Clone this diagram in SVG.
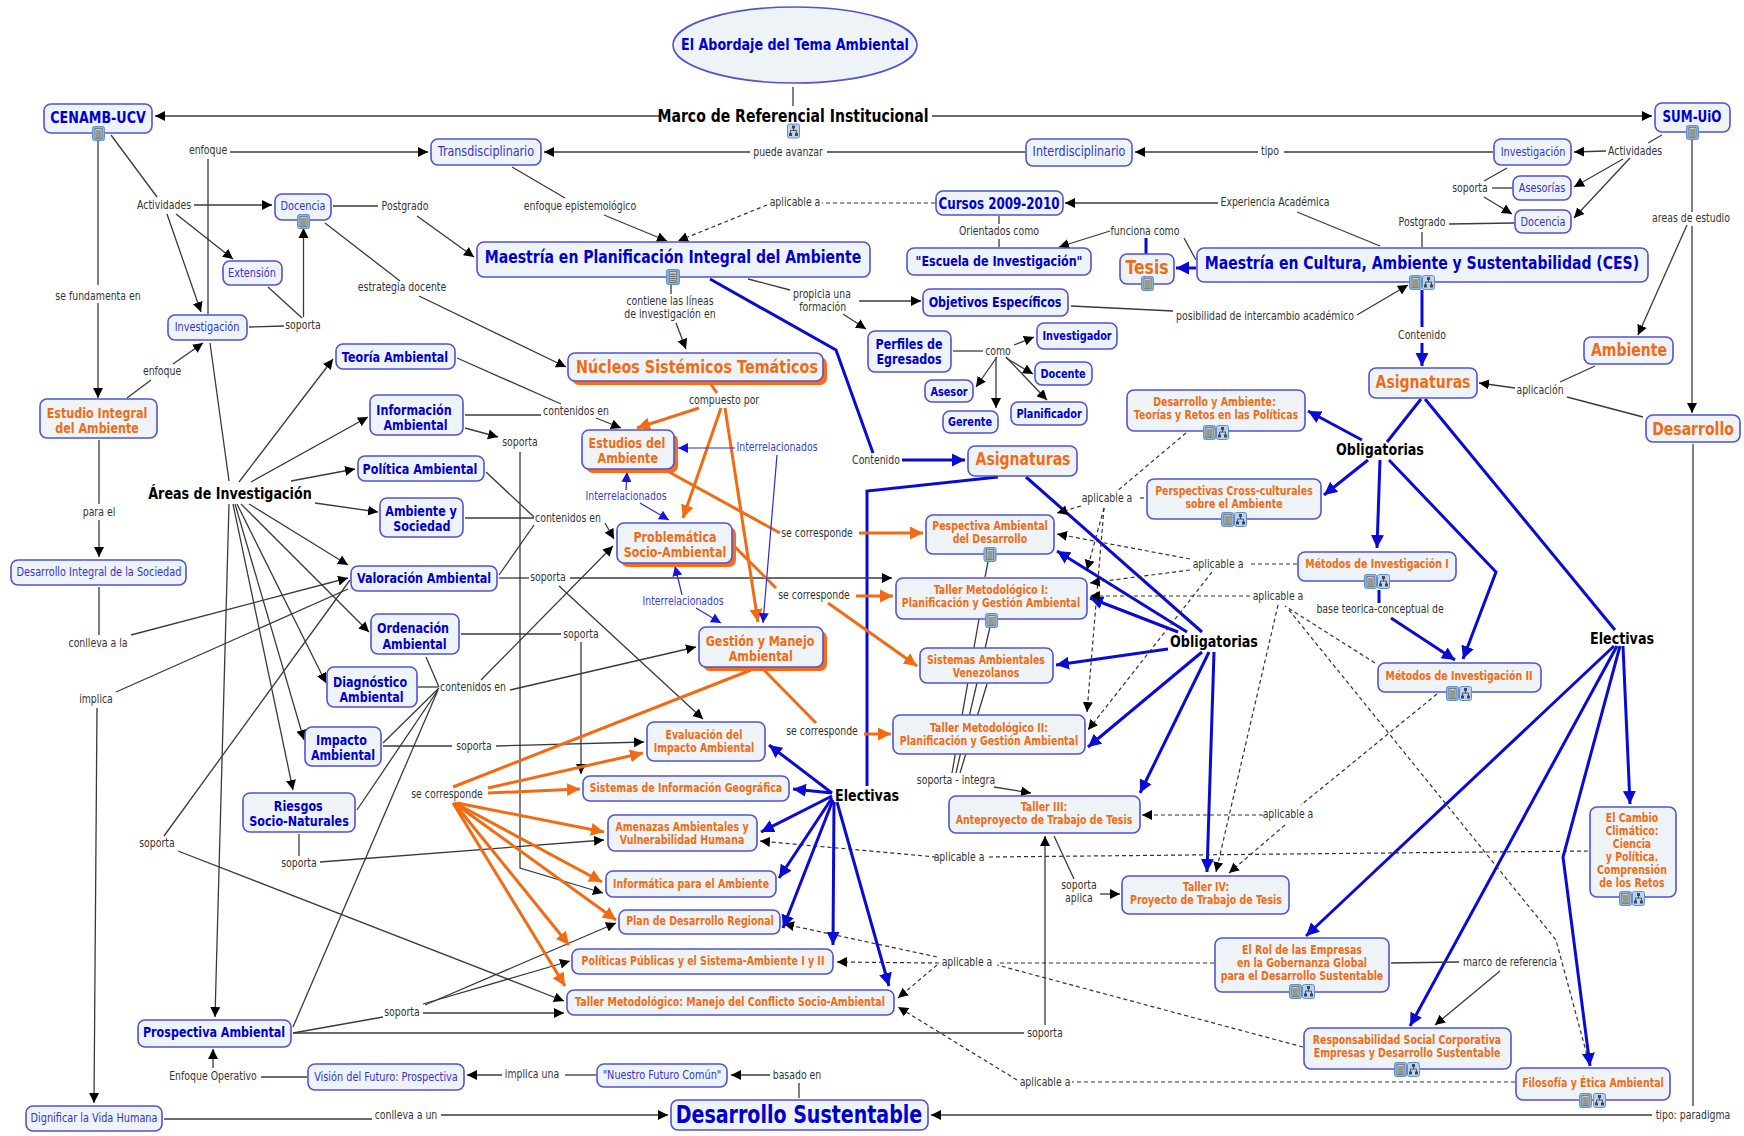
<svg xmlns="http://www.w3.org/2000/svg" xmlns:xlink="http://www.w3.org/1999/xlink" width="1744" height="1136" viewBox="0 0 1744 1136">
<style>
text{font-family:"DejaVu Sans","Verdana",sans-serif;text-anchor:middle;dominant-baseline:central;transform-box:fill-box;transform-origin:center;transform:scaleX(.78)}
.n{fill:#eef3f8;stroke:#5252d2;stroke-width:1.6}
.s{fill:#ff6a13;stroke:none}
.bl{fill:#0000cc;font-weight:bold}
.rg{fill:#3535cc}
.or{fill:#f06c14;font-weight:bold}
.bk{fill:#000;font-weight:bold}
.lb{fill:#333;font-size:12px}
.ib{fill:#3c3cd0;font-size:12px}
.f11{font-size:12.1px}.f12{font-size:12.5px}.f13{font-size:14.3px}.f16{font-size:16.3px}.f15{font-size:15.3px}.f17{font-size:18px}.f14{font-size:14.3px}.f18{font-size:18.4px}.f20{font-size:20px}.f22{font-size:24.4px}
#connectors path{fill:none}
.k{stroke:#3a3a3a;stroke-width:1.3}
.ka{stroke:#3a3a3a;stroke-width:1.3;marker-end:url(#mk)}
.d{stroke:#333;stroke-width:1.2;stroke-dasharray:4 3}
.da{stroke:#333;stroke-width:1.2;stroke-dasharray:4 3;marker-end:url(#mk)}
.b{stroke:#0a0ad6;stroke-width:3}
.ba{stroke:#0a0ad6;stroke-width:3;marker-end:url(#mb)}
.bt{stroke:#2a2ad6;stroke-width:1.2;marker-end:url(#mt)}
.o{stroke:#f26a12;stroke-width:3}
.oa{stroke:#f26a12;stroke-width:3;marker-end:url(#mo)}
</style>
<defs>
<marker id="mk" markerUnits="userSpaceOnUse" markerWidth="11" markerHeight="11" refX="10" refY="5.500" orient="auto"><path d="M0 .5L10 5.500L0 10.500z" fill="#000"/></marker>
<marker id="mt" markerUnits="userSpaceOnUse" markerWidth="11" markerHeight="11" refX="10" refY="5.500" orient="auto"><path d="M0 .5L10 5.500L0 10.500z" fill="#1414dc"/></marker>
<marker id="mb" markerUnits="userSpaceOnUse" markerWidth="14" markerHeight="14" refX="13" refY="7" orient="auto"><path d="M0 .5L13 7L0 13.500z" fill="#0a0ad6"/></marker>
<marker id="mo" markerUnits="userSpaceOnUse" markerWidth="14" markerHeight="14" refX="13" refY="7" orient="auto"><path d="M0 .5L13 7L0 13.500z" fill="#f26a12"/></marker>
<symbol id="doc" viewBox="0 0 13 15"><rect x=".5" y=".5" width="12" height="14" rx="2" fill="#8fb4de" stroke="#5f8fcc"/><rect x="3" y="2.500" width="7" height="10" fill="#c9d0bb" stroke="#555" stroke-width=".6"/><path d="M4 5h5M4 7h5M4 9h5M4 11h5" stroke="#445" stroke-width=".8"/></symbol>
<symbol id="net" viewBox="0 0 13 15"><rect x=".5" y=".5" width="12" height="14" rx="2" fill="#b9d2ee" stroke="#5f8fcc"/><path d="M6.500 3V7M3.500 11V7H9.500V11" stroke="#333" fill="none" stroke-width=".8"/><rect x="5" y="2" width="3" height="3" fill="#445"/><rect x="2" y="9.500" width="3" height="3" fill="#445"/><rect x="8" y="9.500" width="3" height="3" fill="#445"/></symbol>
</defs>
<rect width="1744" height="1136" fill="#fff"/>
<g id="connectors">
<path class="k" d="M793 87V106"/>
<path class="ka" d="M660 116H155"/>
<path class="ka" d="M932 116H1652"/>
<path class="k" d="M98 141V285"/>
<path class="ka" d="M98 303V398"/>
<path class="k" d="M111 135L157 197"/>
<path class="ka" d="M194 205H272"/>
<path class="ka" d="M176 214L233 259"/>
<path class="ka" d="M167 214L201 312"/>
<path class="k" d="M229 481L210 343"/>
<path class="k" d="M208 314V159"/>
<path class="ka" d="M230 152H428"/>
<path class="k" d="M127 398L151 380"/>
<path class="ka" d="M173 364L203 343"/>
<path class="k" d="M268 287L302 318"/>
<path class="k" d="M249 327L284 326"/>
<path class="ka" d="M303.500 317V228"/>
<path class="k" d="M333 206H378"/>
<path class="ka" d="M417 216L474 257"/>
<path class="k" d="M325 223L400 281"/>
<path class="ka" d="M419 296L566 367"/>
<path class="k" d="M512 167L565 198"/>
<path class="ka" d="M604 215L667 241"/>
<path class="k" d="M1025 152H827"/>
<path class="ka" d="M750 152H544"/>
<path class="k" d="M1493 152H1284"/>
<path class="ka" d="M1258 152H1135"/>
<path class="k" d="M1662 135L1648 143"/>
<path class="ka" d="M1606 151L1574 152"/>
<path class="ka" d="M1623 159L1574 187"/>
<path class="ka" d="M1630 158L1574 218"/>
<path class="k" d="M1507 168L1484 181"/>
<path class="k" d="M1512 188H1492"/>
<path class="ka" d="M1484 197L1512 214"/>
<path class="k" d="M1514 223L1449 224"/>
<path class="k" d="M1422 232V247"/>
<path class="k" d="M1380 246L1297 212"/>
<path class="ka" d="M1218 203H1065"/>
<path class="k" d="M1196 260L1184 238"/>
<path class="ka" d="M1110 231L1059 247"/>
<path class="b" d="M1146 238V254"/>
<path class="ba" d="M1196 268H1176"/>
<path class="d" d="M935 203H822"/>
<path class="da" d="M767 205L678 241"/>
<path class="k" d="M999 216V224M999 239V247"/>
<path class="k" d="M671 285V294"/>
<path class="ka" d="M676 323L686 349"/>
<path class="k" d="M748 279L790 290"/>
<path class="ka" d="M859 301H921"/>
<path class="ka" d="M843 314L866 329"/>
<path class="k" d="M953 351H983"/>
<path class="ka" d="M1014 345L1034 337"/>
<path class="ka" d="M1006 358L1033 374"/>
<path class="ka" d="M1006 357L1047 400"/>
<path class="ka" d="M997 357L976 387"/>
<path class="ka" d="M996 357V408"/>
<path class="k" d="M1071 306L1173 311"/>
<path class="ka" d="M1357 315L1408 285"/>
<path class="b" d="M1422 290V327"/>
<path class="ba" d="M1422 343V366"/>
<path class="k" d="M1692 140V212"/>
<path class="ka" d="M1692 226V413"/>
<path class="ka" d="M1687 225L1638 335"/>
<path class="k" d="M1595 366L1560 382"/>
<path class="k" d="M1643 417L1567 397"/>
<path class="ka" d="M1515 388L1479 383"/>
<path class="k" d="M1693 444V1106"/>
<path class="ka" d="M1652 1115H931"/>
<path class="b" d="M1421 399L1387 442"/>
<path class="b" d="M1425 399L1615 630"/>
<path class="ba" d="M1362 440L1308 411"/>
<path class="ba" d="M1368 460L1324 495"/>
<path class="ba" d="M1380 460L1377 548"/>
<path class="ba" d="M1389 460L1496 572L1463 659"/>
<path class="b" d="M1379 590V603"/>
<path class="ba" d="M1391 618L1455 660"/>
<path class="ba" d="M1614 646L1306 936"/>
<path class="ba" d="M1617 646L1410 1026"/>
<path class="ba" d="M1620 646L1563 857L1590 1066"/>
<path class="ba" d="M1623 646L1630 804"/>
<path class="b" d="M710 279L836 350L873 453"/>
<path class="ba" d="M902 460H965"/>
<path class="b" d="M998 477L867 491V786"/>
<path class="b" d="M1026 477L1202 632"/>
<path class="ba" d="M1187 632L1057 551"/>
<path class="ba" d="M1178 632L1090 598"/>
<path class="ba" d="M1168 649L1056 665"/>
<path class="ba" d="M1202 652L1088 747"/>
<path class="ba" d="M1209 652L1140 793"/>
<path class="ba" d="M1214 652L1207 872"/>
<path class="d" d="M1186 433L1116 492"/>
<path class="d" d="M1140 498H1146"/>
<path class="da" d="M1081 506L1057 513"/>
<path class="da" d="M1104 508L1087 570"/>
<path class="da" d="M1104 508L1087 712"/>
<path class="d" d="M1297 564H1248"/>
<path class="da" d="M1190 559L1057 534"/>
<path class="da" d="M1190 570L1090 583"/>
<path class="da" d="M1212 572L1088 730"/>
<path class="da" d="M1250 596H1090"/>
<path class="d" d="M1375 663L1285 606"/>
<path class="d" d="M1289 610L1556 940L1587 1055"/>
<path class="da" d="M1278 605L1216 872"/>
<path class="d" d="M1437 694L1301 805"/>
<path class="da" d="M1263 815H1142"/>
<path class="da" d="M1285 825L1229 873"/>
<path class="d" d="M1588 851L989 857"/>
<path class="da" d="M936 857L760 841"/>
<path class="d" d="M1214 963H997"/>
<path class="da" d="M939 963L837 962"/>
<path class="da" d="M937 957L784 924"/>
<path class="da" d="M937 965L898 998"/>
<path class="d" d="M1303 1047L997 965"/>
<path class="d" d="M1515 1082H1072"/>
<path class="da" d="M1017 1080L898 1007"/>
<path class="k" d="M596 1075H565"/>
<path class="ka" d="M502 1075H467"/>
<path class="k" d="M307 1077H261"/>
<path class="ka" d="M213 1068V1049"/>
<path class="k" d="M799 1098V1083"/>
<path class="ka" d="M770 1075H731"/>
<path class="k" d="M164 1119H372"/>
<path class="ka" d="M441 1115H668"/>
<path class="k" d="M1391 963L1459 962"/>
<path class="ka" d="M1500 971L1435 1025"/>
<path class="k" d="M1054 836L1074 879"/>
<path class="ka" d="M1100 894H1120"/>
<path class="ka" d="M1045 1025V836"/>
<path class="k" d="M293 1033H1024"/>
<path class="k" d="M293 1033L383 1017"/>
<path class="ka" d="M423 1013H564"/>
<path class="ka" d="M423 1004L570 961"/>
<path class="ka" d="M425 1005L616 923"/>
<path class="k" d="M293 1027L438 690"/>
<path class="k" d="M357 810L438 690"/>
<path class="k" d="M383 743L439 688"/>
<path class="k" d="M418 687H438"/>
<path class="k" d="M426 657L439 687"/>
<path class="ka" d="M510 690L696 647"/>
<path class="ka" d="M481 680L613 546"/>
<path class="k" d="M350 580L164 836"/>
<path class="ka" d="M178 851L564 1001"/>
<path class="ka" d="M239 482L333 359"/>
<path class="ka" d="M251 482L368 417"/>
<path class="ka" d="M291 481L355 469"/>
<path class="ka" d="M315 503L378 512"/>
<path class="ka" d="M249 504L348 565"/>
<path class="ka" d="M241 504L369 632"/>
<path class="ka" d="M237 504L326 683"/>
<path class="ka" d="M235 504L304 740"/>
<path class="ka" d="M233 504L293 790"/>
<path class="ka" d="M229 504L215 1017"/>
<path class="k" d="M499 575L534 525"/>
<path class="k" d="M486 472L534 517"/>
<path class="k" d="M465 518H534"/>
<path class="ka" d="M605 523L614 539"/>
<path class="k" d="M457 358L561 404"/>
<path class="k" d="M465 415H541"/>
<path class="ka" d="M596 418L621 428"/>
<path class="ka" d="M465 428L498 437"/>
<path class="ka" d="M520 452V868L603 893"/>
<path class="k" d="M499 578H529"/>
<path class="ka" d="M570 578H892"/>
<path class="ka" d="M559 586L703 719"/>
<path class="k" d="M461 634H561"/>
<path class="ka" d="M581 642V774"/>
<path class="k" d="M383 746H452"/>
<path class="ka" d="M496 746L644 742"/>
<path class="k" d="M299 834V856"/>
<path class="ka" d="M320 862L604 840"/>
<path class="k" d="M99 587V635"/>
<path class="ka" d="M131 635L348 578"/>
<path class="k" d="M348 589L116 692"/>
<path class="ka" d="M97 708L94 1103"/>
<path class="k" d="M99 440V504"/>
<path class="ka" d="M99 520V557"/>
<path class="k" d="M988 562L985 577"/>
<path class="k" d="M979 619L952 773M990 627L956 773M987 684L960 773"/>
<path class="ka" d="M994 787L1031 793"/>
<path class="o" d="M710 383L717 393"/>
<path class="oa" d="M699 408L637 428"/>
<path class="oa" d="M721 408L683 518"/>
<path class="oa" d="M725 408L758 622"/>
<path class="o" d="M669 472L780 533"/>
<path class="oa" d="M859 533H923"/>
<path class="o" d="M735 547L776 588"/>
<path class="oa" d="M856 596H893"/>
<path class="oa" d="M828 603L917 666"/>
<path class="o" d="M764 670L816 723"/>
<path class="oa" d="M864 734H891"/>
<path class="o" d="M751 670L453 787"/>
<path class="oa" d="M488 788L643 753"/>
<path class="oa" d="M488 793L580 789"/>
<path class="oa" d="M457 803L604 832"/>
<path class="oa" d="M455 803L602 882"/>
<path class="oa" d="M454 803L616 920"/>
<path class="oa" d="M454 803L569 945"/>
<path class="oa" d="M453 803L565 986"/>
<path class="ba" d="M832 793L769 745"/>
<path class="ba" d="M832 793L793 789"/>
<path class="ba" d="M832 796L761 832"/>
<path class="ba" d="M832 798L779 878"/>
<path class="ba" d="M833 800L783 928"/>
<path class="ba" d="M834 802L833 945"/>
<path class="ba" d="M837 802L889 986"/>
<path class="bt" d="M735 448H678"/>
<path class="bt" d="M777 455L763 623"/>
<path class="bt" d="M626 490L627 472"/>
<path class="bt" d="M640 503L669 520"/>
<path class="bt" d="M682 595L675 566"/>
<path class="bt" d="M696 608L721 623"/>
</g>
<g id="n-abordaje"><ellipse class="n" cx="795" cy="45" rx="122" ry="38"/><text class="bl f16" x="795" y="44">El Abordaje del Tema Ambiental</text></g>
<g id="n-cenamb"><rect class="n" x="44" y="104" width="108" height="29" rx="7"/><text class="bl f16" x="98" y="117">CENAMB-UCV</text><use href="#doc" x="92" y="126" width="13" height="15"/></g>
<g id="n-sum"><rect class="n" x="1655" y="103" width="75" height="29" rx="7"/><text class="bl f15" x="1692" y="116">SUM-UiO</text><use href="#doc" x="1686" y="125" width="13" height="15"/></g>
<g id="n-trans"><rect class="n" x="431" y="139" width="110" height="26" rx="7"/><text class="rg f14" x="486" y="151">Transdisciplinario</text></g>
<g id="n-inter"><rect class="n" x="1026" y="139" width="106" height="27" rx="7"/><text class="rg f14" x="1079" y="151">Interdisciplinario</text></g>
<g id="n-inv-r"><rect class="n" x="1494" y="139" width="77" height="26" rx="7"/><text class="rg f12" x="1533" y="152">Investigación</text></g>
<g id="n-ases"><rect class="n" x="1513" y="176" width="58" height="24" rx="7"/><text class="rg f12" x="1542" y="188">Asesorías</text></g>
<g id="n-doc-r"><rect class="n" x="1515" y="210" width="56" height="23" rx="7"/><text class="rg f12" x="1543" y="222">Docencia</text></g>
<g id="n-docencia"><rect class="n" x="275" y="194" width="56" height="26" rx="7"/><text class="rg f12" x="303" y="206">Docencia</text><use href="#doc" x="297" y="214" width="13" height="15"/></g>
<g id="n-ext"><rect class="n" x="223" y="261" width="59" height="24" rx="7"/><text class="rg f12" x="252" y="273">Extensión</text></g>
<g id="n-inv"><rect class="n" x="168" y="315" width="79" height="25" rx="7"/><text class="rg f12" x="207" y="327">Investigación</text></g>
<g id="n-pia"><rect class="n" x="477" y="242" width="393" height="35" rx="7"/><text class="bl f17" x="673" y="257">Maestría en Planificación Integral del Ambiente</text><use href="#doc" x="666" y="269" width="14" height="16"/></g>
<g id="n-ces"><rect class="n" x="1197" y="248" width="451" height="34" rx="7"/><text class="bl f17" x="1422" y="263">Maestría en Cultura, Ambiente y Sustentabilidad (CES)</text><use href="#doc" x="1409" y="275" width="13" height="15"/><use href="#net" x="1422" y="275" width="13" height="15"/></g>
<g id="n-tesis"><rect class="n" x="1120" y="254" width="54" height="30" rx="7"/><text class="or f20" x="1147" y="267">Tesis</text><use href="#doc" x="1141" y="276" width="13" height="15"/></g>
<g id="n-cursos"><rect class="n" x="936" y="191" width="127" height="24" rx="7"/><text class="bl f15" x="999" y="203">Cursos 2009-2010</text></g>
<g id="n-escuela"><rect class="n" x="907" y="248" width="184" height="27" rx="7"/><text class="bl f14" x="999" y="261">"Escuela de Investigación"</text></g>
<g id="n-objetivos"><rect class="n" x="923" y="289" width="145" height="27" rx="7"/><text class="bl f14" x="995" y="302">Objetivos Específicos</text></g>
<g id="n-perfiles"><rect class="n" x="868" y="331" width="83" height="41" rx="7"/><text class="bl f14" x="909"><tspan x="909" y="343">Perfiles de</tspan><tspan x="909" y="358">Egresados</tspan></text></g>
<g id="n-investigador"><rect class="n" x="1037" y="323" width="80" height="26" rx="7"/><text class="bl f12" x="1077" y="336">Investigador</text></g>
<g id="n-docente"><rect class="n" x="1035" y="362" width="57" height="23" rx="7"/><text class="bl f12" x="1063" y="374">Docente</text></g>
<g id="n-planificador"><rect class="n" x="1011" y="402" width="76" height="23" rx="7"/><text class="bl f12" x="1049" y="414">Planificador</text></g>
<g id="n-asesor"><rect class="n" x="925" y="380" width="48" height="22" rx="7"/><text class="bl f12" x="949" y="392">Asesor</text></g>
<g id="n-gerente"><rect class="n" x="943" y="411" width="55" height="22" rx="7"/><text class="bl f12" x="970" y="422">Gerente</text></g>
<g id="n-ambiente"><rect class="n" x="1584" y="337" width="89" height="27" rx="7"/><text class="or f17" x="1629" y="350">Ambiente</text></g>
<g id="n-asig-r"><rect class="n" x="1369" y="368" width="108" height="30" rx="7"/><text class="or f17" x="1423" y="382">Asignaturas</text></g>
<g id="n-desarrollo"><rect class="n" x="1646" y="415" width="94" height="27" rx="7"/><text class="or f17" x="1693" y="429">Desarrollo</text></g>
<g id="n-dya"><rect class="n" x="1127" y="390" width="178" height="41" rx="7"/><text class="or f11"><tspan x="1214" y="402">Desarrollo y Ambiente:</tspan><tspan x="1216" y="415">Teorías y Retos en las Políticas</tspan></text><use href="#doc" x="1203" y="425" width="13" height="15"/><use href="#net" x="1216" y="425" width="13" height="15"/></g>
<g id="n-cross"><rect class="n" x="1147" y="479" width="174" height="40" rx="7"/><text class="or f11"><tspan x="1234" y="491">Perspectivas Cross-culturales</tspan><tspan x="1234" y="504">sobre el Ambiente</tspan></text><use href="#doc" x="1221" y="512" width="13" height="15"/><use href="#net" x="1234" y="512" width="13" height="15"/></g>
<g id="n-met1"><rect class="n" x="1298" y="552" width="158" height="29" rx="7"/><text class="or f11" x="1377" y="564">Métodos de Investigación I</text><use href="#doc" x="1364" y="574" width="13" height="15"/><use href="#net" x="1377" y="574" width="13" height="15"/></g>
<g id="n-met2"><rect class="n" x="1378" y="663" width="163" height="29" rx="7"/><text class="or f11" x="1459" y="676">Métodos de Investigación II</text><use href="#doc" x="1446" y="686" width="13" height="15"/><use href="#net" x="1459" y="686" width="13" height="15"/></g>
<g id="n-cambio"><rect class="n" x="1590" y="807" width="86" height="90" rx="7"/><text class="or f11"><tspan x="1632" y="818">El Cambio</tspan><tspan x="1632" y="831">Climático:</tspan><tspan x="1632" y="844">Ciencia</tspan><tspan x="1632" y="857">y Política.</tspan><tspan x="1632" y="870">Comprensión</tspan><tspan x="1632" y="883">de los Retos</tspan></text><use href="#doc" x="1619" y="891" width="13" height="15"/><use href="#net" x="1632" y="891" width="13" height="15"/></g>
<g id="n-asig-c"><rect class="n" x="968" y="446" width="109" height="30" rx="7"/><text class="or f17" x="1023" y="459">Asignaturas</text></g>
<g id="n-persp"><rect class="n" x="926" y="515" width="128" height="39" rx="7"/><text class="or f11"><tspan x="990" y="526">Pespectiva Ambiental</tspan><tspan x="990" y="539">del Desarrollo</tspan></text><use href="#doc" x="983" y="547" width="14" height="15"/></g>
<g id="n-t1"><rect class="n" x="896" y="578" width="191" height="41" rx="7"/><text class="or f11"><tspan x="991" y="590">Taller Metodológico I:</tspan><tspan x="991" y="603">Planificación y Gestión Ambiental</tspan></text><use href="#doc" x="985" y="613" width="13" height="15"/></g>
<g id="n-sav"><rect class="n" x="920" y="648" width="133" height="35" rx="7"/><text class="or f11"><tspan x="986" y="660">Sistemas Ambientales</tspan><tspan x="986" y="673">Venezolanos</tspan></text></g>
<g id="n-t2"><rect class="n" x="893" y="715" width="192" height="39" rx="7"/><text class="or f11"><tspan x="989" y="728">Taller Metodológico II:</tspan><tspan x="989" y="741">Planificación y Gestión Ambiental</tspan></text></g>
<g id="n-t3"><rect class="n" x="949" y="796" width="191" height="37" rx="7"/><text class="or f11"><tspan x="1044" y="807">Taller III:</tspan><tspan x="1044" y="820">Anteproyecto de Trabajo de Tesis</tspan></text></g>
<g id="n-t4"><rect class="n" x="1122" y="876" width="167" height="38" rx="7"/><text class="or f11"><tspan x="1206" y="887">Taller IV:</tspan><tspan x="1206" y="900">Proyecto de Trabajo de Tesis</tspan></text></g>
<g id="n-rol"><rect class="n" x="1215" y="938" width="174" height="54" rx="7"/><text class="or f11"><tspan x="1302" y="950">El Rol de las Empresas</tspan><tspan x="1302" y="963">en la Gobernanza Global</tspan><tspan x="1302" y="976">para el Desarrollo Sustentable</tspan></text><use href="#doc" x="1289" y="984" width="13" height="15"/><use href="#net" x="1302" y="984" width="13" height="15"/></g>
<g id="n-rsc"><rect class="n" x="1304" y="1028" width="207" height="41" rx="7"/><text class="or f11"><tspan x="1407" y="1040">Responsabilidad Social Corporativa</tspan><tspan x="1407" y="1053">Empresas y Desarrollo Sustentable</tspan></text><use href="#doc" x="1394" y="1062" width="13" height="15"/><use href="#net" x="1407" y="1062" width="13" height="15"/></g>
<g id="n-filo"><rect class="n" x="1516" y="1068" width="154" height="32" rx="7"/><text class="or f11" x="1593" y="1083">Filosofía y Ética Ambiental</text><use href="#doc" x="1579" y="1093" width="13" height="15"/><use href="#net" x="1593" y="1093" width="13" height="15"/></g>
<g id="n-ds"><rect class="n" x="671" y="1100" width="257" height="30" rx="7"/><text class="bl f22" x="799" y="1115">Desarrollo Sustentable</text></g>
<g id="n-futuro"><rect class="n" x="597" y="1064" width="130" height="23" rx="7"/><text class="rg f12" x="662" y="1075">"Nuestro Futuro Común"</text></g>
<g id="n-vision"><rect class="n" x="308" y="1064" width="156" height="26" rx="7"/><text class="rg f12" x="386" y="1077">Visión del Futuro: Prospectiva</text></g>
<g id="n-prosp"><rect class="n" x="138" y="1020" width="153" height="27" rx="7"/><text class="bl f14" x="214" y="1032">Prospectiva Ambiental</text></g>
<g id="n-dign"><rect class="n" x="26" y="1106" width="136" height="25" rx="7"/><text class="rg f12" x="94" y="1118">Dignificar la Vida Humana</text></g>
<g id="n-riesgos"><rect class="n" x="243" y="793" width="112" height="39" rx="7"/><text class="bl f14"><tspan x="298" y="805">Riesgos</tspan><tspan x="299" y="820">Socio-Naturales</tspan></text></g>
<g id="n-eval"><rect class="n" x="647" y="722" width="118" height="39" rx="7"/><text class="or f11"><tspan x="704" y="735">Evaluación del</tspan><tspan x="704" y="748">Impacto Ambiental</tspan></text></g>
<g id="n-sig"><rect class="n" x="583" y="776" width="206" height="25" rx="7"/><text class="or f11" x="686" y="788">Sistemas de Información Geográfica</text></g>
<g id="n-amen"><rect class="n" x="608" y="815" width="149" height="36" rx="7"/><text class="or f11"><tspan x="682" y="827">Amenazas Ambientales y</tspan><tspan x="682" y="840">Vulnerabilidad Humana</tspan></text></g>
<g id="n-inf"><rect class="n" x="606" y="871" width="170" height="26" rx="7"/><text class="or f11" x="691" y="884">Informática para el Ambiente</text></g>
<g id="n-plan"><rect class="n" x="619" y="910" width="161" height="24" rx="7"/><text class="or f11" x="700" y="921">Plan de Desarrollo Regional</text></g>
<g id="n-pol"><rect class="n" x="572" y="949" width="261" height="25" rx="7"/><text class="or f11" x="703" y="961">Políticas Públicas y el Sistema-Ambiente I y II</text></g>
<g id="n-conf"><rect class="n" x="567" y="990" width="327" height="25" rx="7"/><text class="or f11" x="730" y="1002">Taller Metodológico: Manejo del Conflicto Socio-Ambiental</text></g>
<g id="n-nucleos"><rect class="s" x="572" y="357" width="255" height="28" rx="7"/><rect class="n" x="568" y="353" width="255" height="28" rx="7"/><text class="or f18" x="697" y="367">Núcleos Sistémicos Temáticos</text></g>
<g id="n-estudios"><rect class="s" x="586" y="434" width="92" height="39" rx="7"/><rect class="n" x="582" y="430" width="92" height="39" rx="7"/><text class="or f13"><tspan x="627" y="442">Estudios del</tspan><tspan x="628" y="457">Ambiente</tspan></text></g>
<g id="n-prob"><rect class="s" x="621" y="527" width="115" height="40" rx="7"/><rect class="n" x="617" y="523" width="115" height="40" rx="7"/><text class="or f13"><tspan x="675" y="536">Problemática</tspan><tspan x="675" y="551">Socio-Ambiental</tspan></text></g>
<g id="n-gest"><rect class="s" x="703" y="631" width="124" height="40" rx="7"/><rect class="n" x="699" y="627" width="124" height="40" rx="7"/><text class="or f13"><tspan x="760" y="640">Gestión y Manejo</tspan><tspan x="761" y="655">Ambiental</tspan></text></g>
<g id="n-teoria"><rect class="n" x="336" y="344" width="119" height="25" rx="7"/><text class="bl f13" x="395" y="357">Teoría Ambiental</text></g>
<g id="n-integral"><rect class="n" x="40" y="399" width="117" height="39" rx="7"/><text class="or f13"><tspan x="97" y="412">Estudio Integral</tspan><tspan x="97" y="427">del Ambiente</tspan></text></g>
<g id="n-info"><rect class="n" x="370" y="395" width="93" height="40" rx="7"/><text class="bl f13"><tspan x="414" y="409">Información</tspan><tspan x="416" y="424">Ambiental</tspan></text></g>
<g id="n-pol-a"><rect class="n" x="358" y="456" width="126" height="25" rx="7"/><text class="bl f13" x="420" y="469">Política Ambiental</text></g>
<g id="n-ays"><rect class="n" x="380" y="498" width="83" height="39" rx="7"/><text class="bl f13"><tspan x="421" y="510">Ambiente y</tspan><tspan x="422" y="525">Sociedad</tspan></text></g>
<g id="n-dis"><rect class="n" x="11" y="560" width="175" height="25" rx="7"/><text class="rg f12" x="99" y="572">Desarrollo Integral de la Sociedad</text></g>
<g id="n-val"><rect class="n" x="351" y="566" width="146" height="25" rx="7"/><text class="bl f13" x="424" y="578">Valoración Ambiental</text></g>
<g id="n-ord"><rect class="n" x="371" y="614" width="88" height="40" rx="7"/><text class="bl f13"><tspan x="413" y="627">Ordenación</tspan><tspan x="415" y="643">Ambiental</tspan></text></g>
<g id="n-diag"><rect class="n" x="327" y="667" width="90" height="40" rx="7"/><text class="bl f13"><tspan x="370" y="681">Diagnóstico</tspan><tspan x="372" y="696">Ambiental</tspan></text></g>
<g id="n-imp"><rect class="n" x="305" y="727" width="76" height="39" rx="7"/><text class="bl f13"><tspan x="341" y="739">Impacto</tspan><tspan x="343" y="754">Ambiental</tspan></text></g>
<g id="labels">
<g id="n-marco"><text class="bk f17" x="793" y="116">Marco de Referencial Institucional</text><use href="#net" x="787" y="123" width="13" height="16"/></g>
<text class="bk f16" x="230" y="493">Áreas de Investigación</text>
<text class="bk f16" x="1380" y="449">Obligatorias</text>
<text class="bk f16" x="1214" y="641">Obligatorias</text>
<text class="bk f16" x="1622" y="638">Electivas</text>
<text class="bk f16" x="867" y="795">Electivas</text>
<text class="lb" x="208" y="150">enfoque</text>
<text class="lb" x="164" y="205">Actividades</text>
<text class="lb" x="98" y="296">se fundamenta en</text>
<text class="lb" x="405" y="206">Postgrado</text>
<text class="lb" x="402" y="287">estrategia docente</text>
<text class="lb" x="303" y="325">soporta</text>
<text class="lb" x="162" y="371">enfoque</text>
<text class="lb" x="580" y="206">enfoque epistemológico</text>
<text class="lb" x="795" y="202">aplicable a</text>
<text class="lb" x="788" y="152">puede avanzar</text>
<text class="lb" x="999" y="231">Orientados como</text>
<text class="lb"><tspan x="670" y="301">contiene las líneas</tspan><tspan x="670" y="314">de investigación en</tspan></text>
<text class="lb"><tspan x="822" y="294">propicia una</tspan><tspan x="823" y="307">formación</tspan></text>
<text class="lb" x="998" y="351">como</text>
<text class="lb" x="724" y="400">compuesto por</text>
<text class="lb" x="1270" y="151">tipo</text>
<text class="lb" x="1635" y="151">Actividades</text>
<text class="lb" x="1470" y="188">soporta</text>
<text class="lb" x="1275" y="202">Experiencia Académica</text>
<text class="lb" x="1422" y="222">Postgrado</text>
<text class="lb" x="1145" y="231">funciona como</text>
<text class="lb" x="1265" y="316">posibilidad de intercambio académico</text>
<text class="lb" x="1422" y="335">Contenido</text>
<text class="lb" x="1691" y="218">areas de estudio</text>
<text class="lb" x="1540" y="390">aplicación</text>
<text class="lb" x="1107" y="498">aplicable a</text>
<text class="lb" x="1218" y="564">aplicable a</text>
<text class="lb" x="1278" y="596">aplicable a</text>
<text class="lb" x="1380" y="609">base teorica-conceptual de</text>
<text class="lb" x="1288" y="814">aplicable a</text>
<text class="lb" x="959" y="857">aplicable a</text>
<text class="lb"><tspan x="1079" y="885">soporta</tspan><tspan x="1079" y="898">aplica</tspan></text>
<text class="lb" x="967" y="962">aplicable a</text>
<text class="lb" x="1510" y="962">marco de referencia</text>
<text class="lb" x="1045" y="1033">soporta</text>
<text class="lb" x="1045" y="1082">aplicable a</text>
<text class="lb" x="1693" y="1115">tipo: paradigma</text>
<text class="lb" x="576" y="411">contenidos en</text>
<text class="ib" x="777" y="447">Interrelacionados</text>
<text class="ib" x="626" y="496">Interrelacionados</text>
<text class="lb" x="817" y="533">se corresponde</text>
<text class="lb" x="814" y="595">se corresponde</text>
<text class="ib" x="683" y="601">Interrelacionados</text>
<text class="lb" x="876" y="460">Contenido</text>
<text class="lb" x="822" y="731">se corresponde</text>
<text class="lb" x="548" y="577">soporta</text>
<text class="lb" x="568" y="518">contenidos en</text>
<text class="lb" x="520" y="442">soporta</text>
<text class="lb" x="581" y="634">soporta</text>
<text class="lb" x="473" y="687">contenidos en</text>
<text class="lb" x="474" y="746">soporta</text>
<text class="lb" x="99" y="512">para el</text>
<text class="lb" x="98" y="643">conlleva a la</text>
<text class="lb" x="96" y="699">implica</text>
<text class="lb" x="157" y="843">soporta</text>
<text class="lb" x="299" y="863">soporta</text>
<text class="lb" x="402" y="1012">soporta</text>
<text class="lb" x="447" y="794">se corresponde</text>
<text class="lb" x="213" y="1076">Enfoque Operativo</text>
<text class="lb" x="532" y="1074">implica una</text>
<text class="lb" x="406" y="1115">conlleva a un</text>
<text class="lb" x="797" y="1075">basado en</text>
<text class="lb" x="956" y="780">soporta - integra</text>
</g>
</svg>
